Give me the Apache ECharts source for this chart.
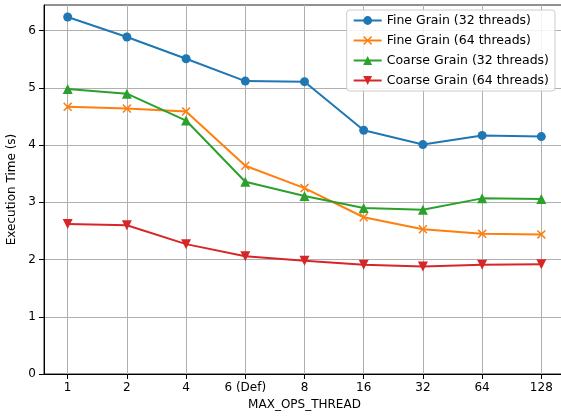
<!DOCTYPE html>
<html><head><meta charset="utf-8">
<script src="https://cdn.jsdelivr.net/npm/echarts@6/dist/echarts.min.js"></script>
<style>html,body{margin:0;padding:0;background:#fff}#c{width:561px;height:417px}</style>
</head><body><div id="c"></div>
<script>
const categories = ['1','2','4','6 (Def)','8','16','32','64','128'];
const fine32 = [6.24, 5.89, 5.51, 5.12, 5.11, 4.26, 4.01, 4.17, 4.15];
const fine64 = [4.67, 4.64, 4.59, 3.64, 3.25, 2.74, 2.53, 2.45, 2.44];
const coarse32 = [4.98, 4.90, 4.43, 3.36, 3.11, 2.90, 2.87, 3.07, 3.06];
const coarse64 = [2.62, 2.60, 2.27, 2.06, 1.98, 1.91, 1.88, 1.91, 1.92];
const yTicks = [0,1,2,3,4,5,6];
const names = ['Fine Grain (32 threads)','Fine Grain (64 threads)','Coarse Grain (32 threads)','Coarse Grain (64 threads)'];
const colors = ['#1f77b4','#ff7f0e','#2ca02c','#d62728'];
const xIdx = categories.map((_, i) => i);
const xPath = 'path://M0,1.2L1.2,0L5,3.8L8.8,0L10,1.2L6.2,5L10,8.8L8.8,10L5,6.2L1.2,10L0,8.8L3.8,5Z';
const font = 'DejaVu Sans';
function mk(name, vals, color, symbol, size, rot) {
  return {
    name, type: 'line', data: vals.map((v, i) => [xIdx[i], v]),
    symbol, symbolSize: size, symbolRotate: rot || 0,
    lineStyle: {color, width: 2}, itemStyle: {color},
    emphasis: {disabled: true}, animation: false
  };
}
const chart = echarts.init(document.getElementById('c'), null, {renderer: 'canvas'});
chart.setOption({
  animation: false,
  color: colors,
  grid: {left: 44, top: 5, width: 521, bottom: 43, outerBoundsMode: 'none', containLabel: false,
         show: true, borderColor: '#222', borderWidth: 1, backgroundColor: 'transparent'},
  legend: {
    right: 6, top: 10, orient: 'vertical', itemGap: 7, itemWidth: 28, itemHeight: 11,
    backgroundColor: 'rgba(255,255,255,0.85)', borderColor: '#ccc', borderWidth: 1, borderRadius: 3,
    padding: [4, 6, 4, 6],
    textStyle: {fontFamily: font, fontSize: 12.5, color: '#000'},
    data: names
  },
  xAxis: {
    type: 'value', min: -0.4, max: 8.4,
    name: 'MAX_OPS_THREAD', nameLocation: 'middle', nameGap: 25,
    nameTextStyle: {fontFamily: font, fontSize: 12, color: '#000'},
    axisLine: {show: true, onZero: false, lineStyle: {color: '#000', width: 1}},
    axisTick: {show: true, customValues: xIdx, length: 5, lineStyle: {color: '#000'}},
    axisLabel: {customValues: xIdx, formatter: v => categories[Math.round(v)] ?? '', fontFamily: font, fontSize: 12, color: '#000', margin: 8},
    splitLine: {show: true, lineStyle: {color: '#b0b0b0', width: 1}}
  },
  yAxis: {
    type: 'value', min: 0, max: 6.45,
    name: 'Execution Time (s)', nameLocation: 'middle', nameGap: 23,
    nameTextStyle: {fontFamily: font, fontSize: 12, color: '#000'},
    axisLine: {show: true, onZero: false, lineStyle: {color: '#000', width: 1}},
    axisTick: {show: true, customValues: yTicks, length: 5, lineStyle: {color: '#000'}},
    axisLabel: {customValues: yTicks, fontFamily: font, fontSize: 12, color: '#000', margin: 8},
    splitLine: {show: true, lineStyle: {color: '#b0b0b0', width: 1}}
  },
  series: [
    mk(names[0], fine32, colors[0], 'circle', 9),
    mk(names[1], fine64, colors[1], xPath, 9),
    mk(names[2], coarse32, colors[2], 'triangle', 10),
    mk(names[3], coarse64, colors[3], 'triangle', 10, 180)
  ]
});
</script></body></html>
